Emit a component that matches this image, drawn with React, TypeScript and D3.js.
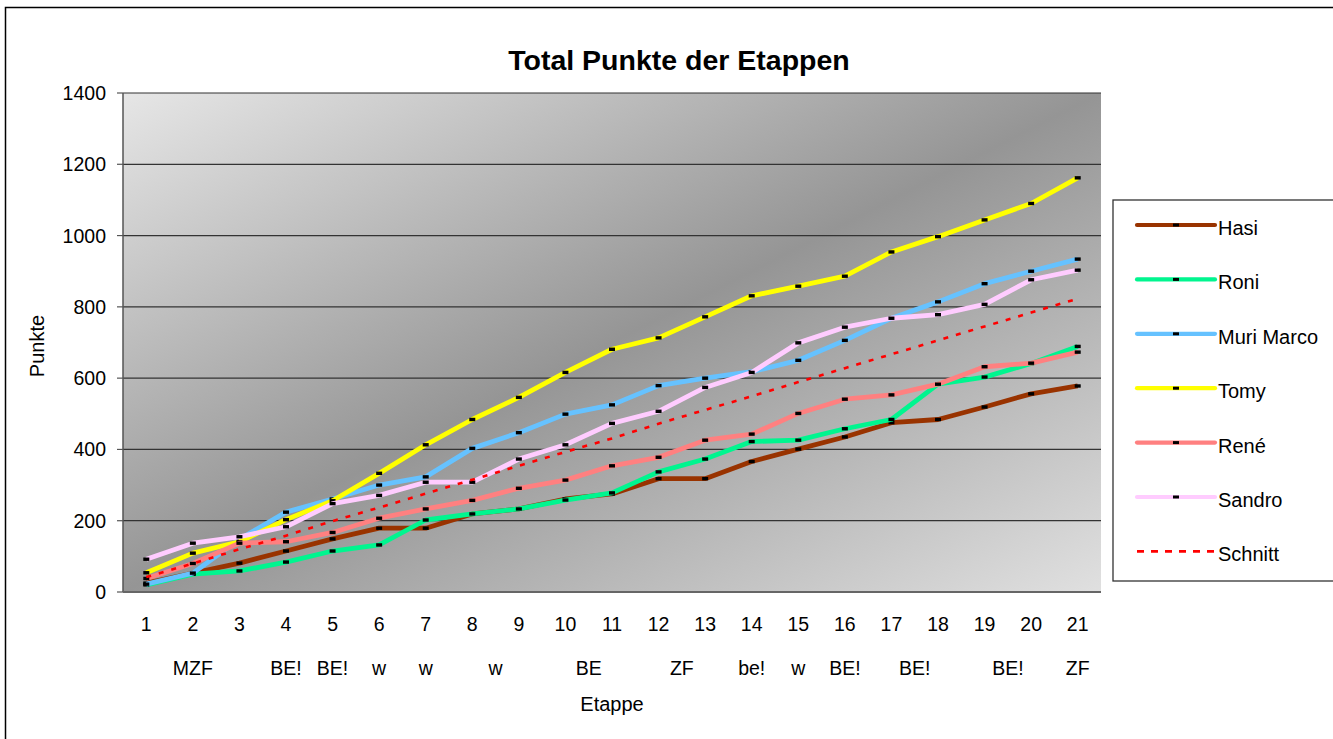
import React from "react";
import * as d3 from "d3";

const categories = ["1", "2", "3", "4", "5", "6", "7", "8", "9", "10", "11", "12", "13", "14", "15", "16", "17", "18", "19", "20", "21"];

// second-line category annotations, positioned in category units
const subLabels = [
  { text: "MZF", at: 2 },
  { text: "BE!", at: 4 },
  { text: "BE!", at: 5 },
  { text: "w", at: 6 },
  { text: "w", at: 7 },
  { text: "w", at: 8.5 },
  { text: "BE", at: 10.5 },
  { text: "ZF", at: 12.5 },
  { text: "be!", at: 14 },
  { text: "w", at: 15 },
  { text: "BE!", at: 16 },
  { text: "BE!", at: 17.5 },
  { text: "BE!", at: 19.5 },
  { text: "ZF", at: 21 },
];

const yTicks = [0, 200, 400, 600, 800, 1000, 1200, 1400];

const hasi = [25, 53, 81, 115, 149, 179, 179, 219, 233, 261, 275, 318, 318, 366, 401, 435, 475, 484, 519, 556, 578];
const roni = [20, 50, 59, 84, 115, 132, 202, 219, 233, 258, 278, 337, 373, 422, 426, 458, 484, 583, 603, 641, 689];
const muriMarco = [22, 53, 148, 224, 261, 300, 323, 403, 447, 499, 525, 579, 600, 618, 650, 706, 768, 814, 865, 900, 934];
const tomy = [54, 109, 141, 203, 256, 333, 413, 484, 546, 616, 681, 713, 772, 831, 858, 886, 954, 997, 1044, 1090, 1162];
const rene = [38, 80, 137, 141, 167, 207, 233, 257, 291, 314, 354, 378, 426, 443, 501, 541, 553, 583, 632, 642, 673];
const sandro = [92, 137, 155, 183, 248, 271, 308, 308, 373, 413, 473, 507, 574, 616, 699, 743, 768, 778, 807, 876, 903];
const schnitt = [42, 80, 120, 158, 199, 237, 276, 315, 354, 393, 431, 472, 511, 549, 589, 628, 667, 706, 745, 784, 823];

const seriesNames = ["Hasi", "Roni", "Muri Marco", "Tomy", "René", "Sandro", "Schnitt"];
const seriesValues = [hasi, roni, muriMarco, tomy, rene, sandro, schnitt];
const seriesColors = ["#993300", "#00F58F", "#66C2FF", "#FFFF00", "#FF8080", "#FFCCFF", "#FF0000"];
const seriesDashed = [false, false, false, false, false, false, true];

const FONT = "'Liberation Sans', Arial, sans-serif";

export default function App() {
  const W = 1333;
  const H = 739;
  const plot = { left: 123, top: 93, right: 1101, bottom: 592 };

  const x = d3.scaleBand<string>().domain(categories).range([plot.left, plot.right]);
  const xc = (c: string) => (x(c) as number) + x.bandwidth() / 2;
  const xPos = d3.scaleLinear().domain([1, 21]).range([xc("1"), xc("21")]);
  const y = d3.scaleLinear().domain([0, 1400]).range([plot.bottom, plot.top]);

  const line = d3
    .line<number>()
    .x((_, i) => xc(categories[i]))
    .y((d) => y(d));

  const legend = { left: 1113, top: 200, bottom: 581, rowTop: 225, rowStep: 54.4 };

  return (
    <svg
      width={W}
      height={H}
      style={{ position: "absolute", left: 0, top: 0, background: "#fff" }}
      fontFamily={FONT}
    >
      <defs>
        <linearGradient id="plotBg" x1="0" y1="0" x2="1" y2="1">
          <stop offset="0" stopColor="#e6e6e6" />
          <stop offset="0.5" stopColor="#959595" />
          <stop offset="1" stopColor="#e0e0e0" />
        </linearGradient>
      </defs>

      {/* chart border */}
      <rect x={5.5} y={7.5} width={W + 20} height={H + 20} fill="#fff" stroke="#000" strokeWidth={1.5} />

      {/* title */}
      <text x={679} y={60} textAnchor="middle" dominantBaseline="central" fontSize={28.5} fontWeight="bold">
        Total Punkte der Etappen
      </text>

      {/* plot area */}
      <rect
        x={plot.left}
        y={plot.top}
        width={plot.right - plot.left}
        height={plot.bottom - plot.top}
        fill="url(#plotBg)"
      />

      {/* gridlines */}
      {yTicks.filter((t) => t > 0).map((t) => (
        <line key={t} x1={plot.left} x2={plot.right} y1={y(t)} y2={y(t)} stroke="#333" strokeWidth={1.2} />
      ))}

      {/* axes */}
      <line x1={plot.left} x2={plot.left} y1={plot.top} y2={plot.bottom} stroke="#555" strokeWidth={1.5} />
      <line x1={plot.left} x2={plot.right} y1={plot.bottom} y2={plot.bottom} stroke="#666" strokeWidth={1.8} />
      {yTicks.map((t) => (
        <g key={t}>
          <line x1={plot.left - 6} x2={plot.left} y1={y(t)} y2={y(t)} stroke="#555" strokeWidth={1.2} />
          <text x={plot.left - 17} y={y(t)} textAnchor="end" dominantBaseline="central" fontSize={19.5}>
            {t}
          </text>
        </g>
      ))}

      {/* x tick labels */}
      {categories.map((c) => (
        <text key={c} x={xc(c)} y={624} textAnchor="middle" dominantBaseline="central" fontSize={19.5}>
          {c}
        </text>
      ))}
      {subLabels.map((s, i) => (
        <text key={i} x={xPos(s.at)} y={668} textAnchor="middle" dominantBaseline="central" fontSize={19.5}>
          {s.text}
        </text>
      ))}

      {/* axis titles */}
      <text x={612} y={704} textAnchor="middle" dominantBaseline="central" fontSize={20}>
        Etappe
      </text>
      <text
        transform={`translate(37,346) rotate(-90)`}
        textAnchor="middle"
        dominantBaseline="central"
        fontSize={20}
      >
        Punkte
      </text>

      {/* series */}
      {seriesValues.map((vals, si) => (
        <g key={seriesNames[si]}>
          <path
            d={line(vals) as string}
            fill="none"
            stroke={seriesColors[si]}
            strokeWidth={seriesDashed[si] ? 2.6 : 4.8}
            strokeLinejoin="round"
            strokeDasharray={seriesDashed[si] ? "5 8" : undefined}
          />
          {!seriesDashed[si] &&
            vals.map((v, i) => (
              <rect key={i} x={xc(categories[i]) - 3} y={y(v) - 1.7} width={6} height={3.4} fill="#000" />
            ))}
        </g>
      ))}

      {/* legend */}
      <rect
        x={legend.left}
        y={legend.top}
        width={W - legend.left + 20}
        height={legend.bottom - legend.top}
        fill="#fff"
        stroke="#333"
        strokeWidth={1.3}
      />
      {seriesNames.map((name, i) => {
        const ry = legend.rowTop + i * legend.rowStep;
        return (
          <g key={name}>
            <line
              x1={1137}
              x2={1215}
              y1={ry}
              y2={ry}
              stroke={seriesColors[i]}
              strokeWidth={seriesDashed[i] ? 2.6 : 4.2}
              strokeLinecap={seriesDashed[i] ? "butt" : "round"}
              strokeDasharray={seriesDashed[i] ? "7 7" : undefined}
            />
            {!seriesDashed[i] && <rect x={1173} y={ry - 1.5} width={6} height={3} fill="#000" />}
            <text x={1218} y={ry + 3} dominantBaseline="central" fontSize={20}>
              {name}
            </text>
          </g>
        );
      })}
    </svg>
  );
}
